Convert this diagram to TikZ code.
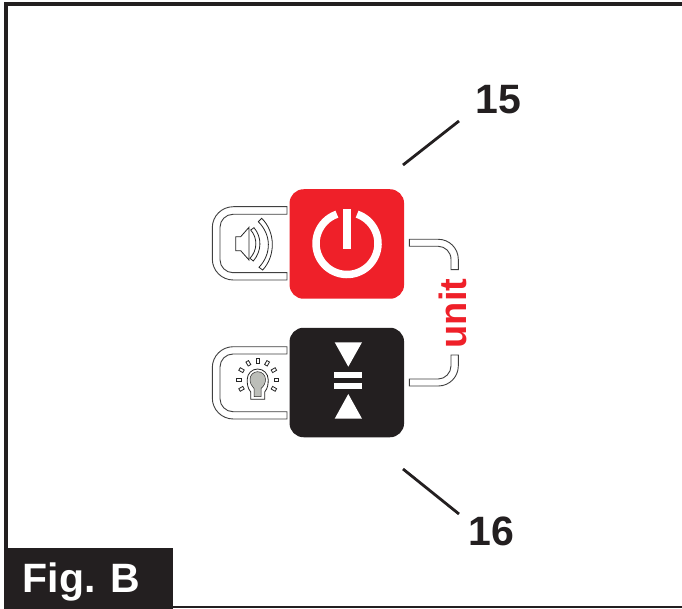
\documentclass[tikz,border=0pt]{standalone}
\usepackage{fontspec}
\setmainfont{Liberation Sans}
\usepackage{xcolor}
\usetikzlibrary{positioning,calc}
\definecolor{panelred}{HTML}{EF2029}
\definecolor{panelblack}{HTML}{231F20}
\definecolor{bulbgrey}{HTML}{BCBEB9}

\begin{document}
\begin{tikzpicture}[
    x=1pt, y=-1pt,
    button/.style={rectangle, rounded corners=14pt, minimum width=114.5pt, minimum height=109.5pt, inner sep=0pt},
    tube/.style={draw=black!75, fill=white, line width=0.9pt},
    icon/.style={draw=black!85, fill=white, line width=0.8pt},
    leader/.style={draw=panelblack, line width=2.8pt},
    number/.style={font=\fontsize{41}{41}\selectfont\bfseries, text=panelblack, inner sep=0pt},
    figbox/.style={rectangle, fill=panelblack, minimum width=169pt, minimum height=61pt, inner sep=0pt}
  ]
    \useasboundingbox (0,0) rectangle (682,609);
    \fill[white] (0,0) rectangle (682,609);

    \draw[panelblack, line width=4pt] (682,4) -- (6,4) -- (6,550);
    \draw[panelblack, line width=2pt] (173,607) -- (682,607);
    \node [figbox] (figb) at (88.5,578.5) {};
    \node [anchor=base west, inner sep=0pt, text=white, font=\fontsize{41}{41}\selectfont\bfseries] (figlabel) at (22.5,592.3) {Fig. B};

    \node [button, fill=panelred] (power) at (346.8,244) {};
    \node [button, fill=panelblack] (adjust) at (346.8,382.5) {};

    % power symbol
    \draw[white, line width=7.5pt] (357.1,214.2) arc[start angle=-71, end angle=251, radius=31];
    \fill[white] (343,209) rectangle (351,249);

    % arrows and bars
    \fill[white] (334.7,342.3) -- (362,342.3) -- (348.3,366.7) -- cycle;
    \fill[white] (334,372) rectangle (362,378);
    \fill[white] (334,383) rectangle (362,389);
    \fill[white] (334.7,418.7) -- (362,418.7) -- (348.3,394) -- cycle;

    % tubes on the left
    \draw[tube] (287,206.7) [rounded corners=21pt] -- (212.3,206.7) -- (212.3,280) [sharp corners] -- (287,280) -- (287,272.7) [rounded corners=13pt] -- (220,272.7) -- (220,214.3) [sharp corners] -- (287,214.3) -- cycle;
    \draw[tube] (287,346.7) [rounded corners=21pt] -- (212.3,346.7) -- (212.3,419) [sharp corners] -- (287,419) -- (287,411.7) [rounded corners=13pt] -- (220,411.7) -- (220,354) [sharp corners] -- (287,354) -- cycle;

    % tubes on the right
    \draw[tube] (409.3,239.3) -- (438.3,239.3) .. controls (449.3,239.3) and (458.3,248.3) .. (458.3,259.3) -- (458.3,269.7) -- (451,269.7) -- (451,259.3) .. controls (451,252) and (445,246.3) .. (438.3,246.3) -- (409.3,246.3) -- cycle;
    \draw[tube] (409.3,386) -- (438.3,386) .. controls (449.3,386) and (458.3,377) .. (458.3,366) -- (458.3,355) -- (451,355) -- (451,366) .. controls (451,373) and (445,379) .. (438.3,379) -- (409.3,379) -- cycle;

    % speaker
    \draw[icon] (235.7,236.7) -- (240.7,236.7) -- (249,227.3) -- (249,260) -- (240.7,250.7) -- (235.7,250.7) -- cycle;
    \draw[icon] (250.7,230) .. controls (257.7,238) and (257.7,250) .. (250,258.3) -- (253.3,261) .. controls (262,251) and (262,237) .. (254,227.7) -- cycle;
    \draw[icon] (258.3,221.7) .. controls (271.6,235) and (271.6,254) .. (259,267.3) -- (262.7,270) .. controls (275.7,256) and (275.7,232) .. (261.7,218.3) -- cycle;

    % bulb
    \foreach \ang in {-30,0,...,210} {
      \node [icon, minimum width=4.6pt, minimum height=3pt, inner sep=0pt, rotate=\ang] (ray\ang) at ($(257.7,379.5)+(\ang:18.7pt)$) {};
    }
    \draw[icon] (250.7,399.3) -- (250.7,392) .. controls (247.5,388) and (247.2,384) .. (247.2,379.5) .. controls (247.2,373.7) and (251.9,369) .. (257.7,369) .. controls (263.5,369) and (268.2,373.7) .. (268.2,379.5) .. controls (268.2,384) and (267.9,388) .. (264.7,392) -- (264.7,399.3) -- cycle;
    \draw[icon, fill=bulbgrey, line width=0.5pt] (254,396.7) -- (254,388.5) .. controls (251.5,386) and (250,383) .. (250,379.3) .. controls (250,375) and (253.4,371.7) .. (257.7,371.7) .. controls (262,371.7) and (265.5,375) .. (265.5,379.3) .. controls (265.5,383) and (264,386) .. (261,388.5) -- (261,396.7) -- cycle;

    \node [anchor=base, rotate=90, inner sep=0pt, text=panelred, font=\fontsize{38}{38}\selectfont\bfseries] (unit) at (466.7,313.5) {unit};

    \node [number] (num15) at (498,100) {15};
    \node [number] (num16) at (491,531) {16};
    \coordinate (lead15a) at (459,121);
    \coordinate (lead15b) at (403,165);
    \coordinate (lead16a) at (403,469);
    \coordinate (lead16b) at (459,514);
    \draw[leader] (lead15a) -- (lead15b);
    \draw[leader] (lead16a) -- (lead16b);
\end{tikzpicture}
\end{document}
